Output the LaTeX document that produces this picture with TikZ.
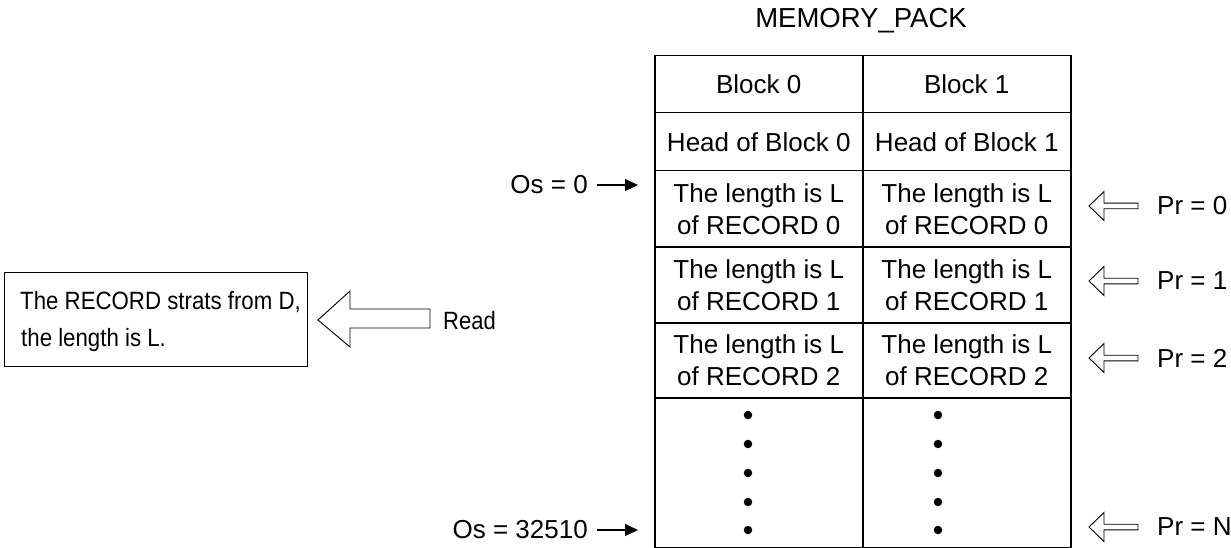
\documentclass[tikz,border=0pt]{standalone}
\usepackage{fontspec}
\usepackage{graphicx}
\setmainfont{Liberation Sans}
\usetikzlibrary{arrows.meta}
\begin{document}
\begin{tikzpicture}[x=1pt,y=-1pt,
  font=\fontsize{26}{32}\selectfont,
  cell/.style={draw, line width=1.5pt, minimum width=208pt, inner sep=0pt,
    align=center, anchor=north west},
  lbl/.style={inner sep=0pt},
  smalltext/.style={inner sep=0pt, font=\fontsize{25}{30}\selectfont},
  dotmark/.style={circle, fill, inner sep=0pt, minimum size=8.5pt},
  osarrow/.style={-{Triangle[length=13pt,width=12pt]}, line width=1.3pt},
  openarrow/.style={line width=0.9pt, line join=miter},
  smallarrow/.pic={\draw[openarrow] (0,0) -- (15,-14.5) -- (15,-2.8) -- (49,-2.8)
     -- (49,2.8) -- (15,2.8) -- (15,14.5) -- cycle;}]
\useasboundingbox (0,0) rectangle (1231,548);

% title
\node[lbl, font=\fontsize{27.5}{32}\selectfont] (title) at (861,21) {MEMORY\_PACK};

% table cells
\node[cell, minimum height=57pt] (b0) at (654,55) {Block 0};
\node[cell, minimum height=57pt] (b1) at (862,55) {Block 1};
\node[cell, minimum height=58pt] (h0) at (654,112) {Head of Block 0};
\node[cell, minimum height=58pt] (h1) at (862,112) {Head of Block 1};
\node[cell, minimum height=76pt] (r00) at (654,170) {The length is L\\of RECORD 0};
\node[cell, minimum height=76pt] (r10) at (862,170) {The length is L\\of RECORD 0};
\node[cell, minimum height=76pt] (r01) at (654,246) {The length is L\\of RECORD 1};
\node[cell, minimum height=76pt] (r11) at (862,246) {The length is L\\of RECORD 1};
\node[cell, minimum height=75pt] (r02) at (654,322) {The length is L\\of RECORD 2};
\node[cell, minimum height=75pt] (r12) at (862,322) {The length is L\\of RECORD 2};
\node[cell, minimum height=150pt] (rest0) at (654,397) {};
\node[cell, minimum height=150pt] (rest1) at (862,397) {};

% dots
\foreach \i/\y in {1/415,2/444,3/473,4/502,5/530}{
  \node[dotmark] (dl\i) at (748,\y) {};
  \node[dotmark] (dr\i) at (938,\y) {};
}

% offsets
\node[lbl, anchor=east] (os0) at (588,185) {Os = 0};
\coordinate (os0t) at (638,185);
\path (os0.east) ++(9,0) coordinate (os0s);
\draw[osarrow] (os0s) -- (os0t);
\node[lbl, anchor=east] (osN) at (588,530) {Os = 32510};
\coordinate (osNt) at (638,530);
\path (osN.east) ++(9,0) coordinate (osNs);
\draw[osarrow] (osNs) -- (osNt);

% pointers
\foreach \n/\y in {0/206,1/281,2/358,N/527}{
  \pic at (1089,\y) {smallarrow};
  \node[lbl, anchor=west] (pr\n) at (1157,\y) {Pr = \n};
}

% read arrow
\coordinate (rt) at (318,320);
\draw[openarrow] (rt) -- ++(32,-29) -- ++(0,18) -- ++(80,0) -- ++(0,19)
   -- ++(-80,0) -- ++(0,19) -- cycle;
\node[smalltext, anchor=west] (read) at (443,321) {\scalebox{0.88}[1]{Read}};

% result box
\node[draw, line width=1.3pt, minimum width=303pt, minimum height=94pt,
  anchor=north west, inner sep=0pt] (res) at (4,272) {};
\node[smalltext, anchor=west] (res1) at (20,302) {\scalebox{0.89}[1]{The RECORD strats from D,}};
\node[smalltext, anchor=west] (res2) at (21,340) {\scalebox{0.89}[1]{the length is L.}};
\end{tikzpicture}
\end{document}
